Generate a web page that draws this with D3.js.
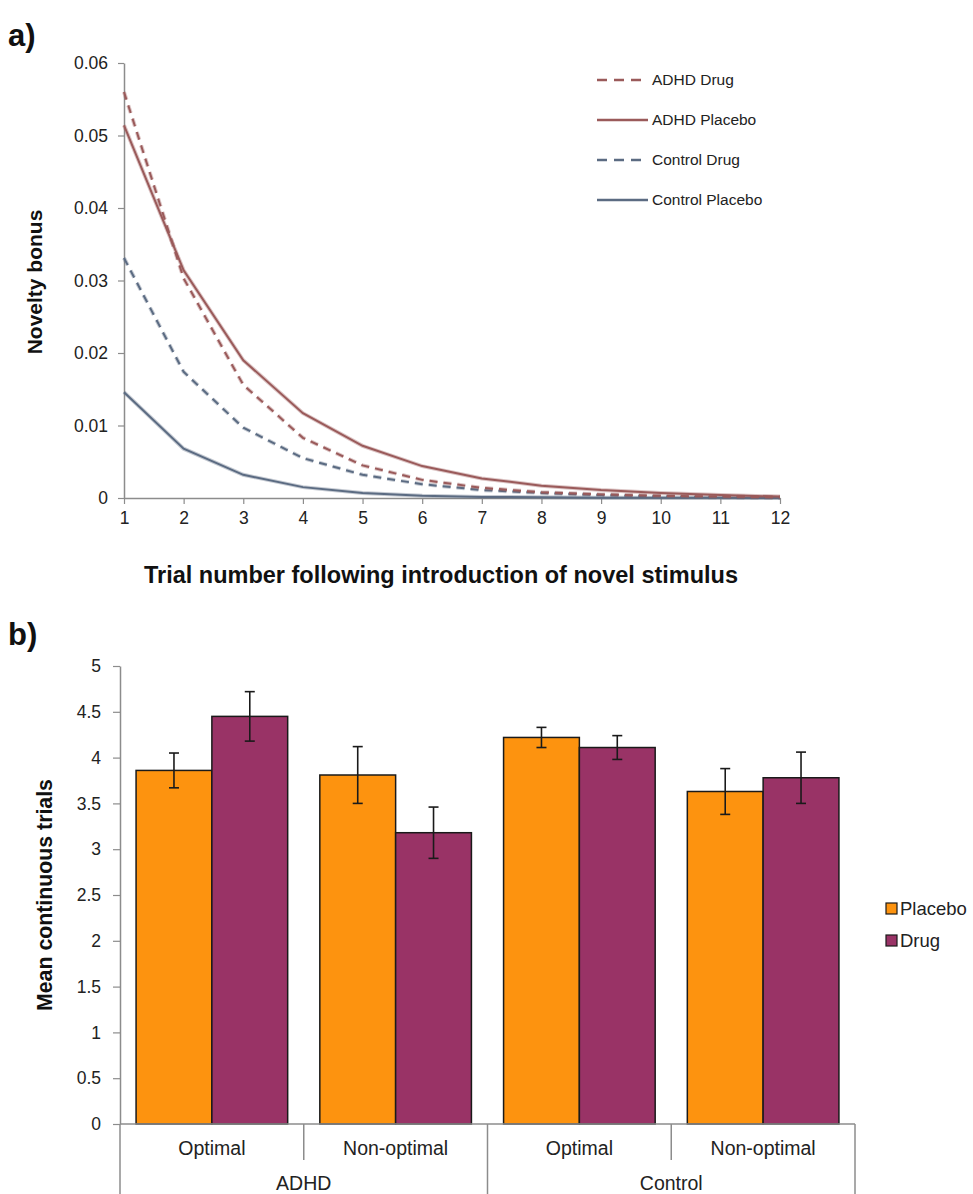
<!DOCTYPE html>
<html>
<head>
<meta charset="utf-8">
<script src="https://cdn.jsdelivr.net/npm/d3@7"></script>
<style>
  body { margin: 0; background: #fff; }
  svg { font-family: "Liberation Sans", Arial, sans-serif; }
</style>
</head>
<body>
<svg id="chart" width="973" height="1194"></svg>
<script>
// ---- panel a data ----
var trials = [1, 2, 3, 4, 5, 6, 7, 8, 9, 10, 11, 12];
var adhdDrug = [0.056, 0.0303, 0.0156, 0.0083, 0.0045, 0.0025, 0.0014, 0.0008, 0.0005, 0.0003, 0.0002, 0.0001];
var adhdPlacebo = [0.0514, 0.0314, 0.019, 0.0117, 0.0072, 0.0044, 0.0027, 0.0017, 0.0011, 0.0007, 0.0004, 0.0002];
var controlDrug = [0.0331, 0.0174, 0.0097, 0.0055, 0.0032, 0.0019, 0.0011, 0.0007, 0.0004, 0.0002, 0.0001, 0.00005];
var controlPlacebo = [0.0146, 0.0068, 0.0032, 0.0015, 0.0007, 0.0003, 0.00015, 0.0001, 0.00005, 0.00003, 0.00002, 0.00001];
var yTicksA = [0, 0.01, 0.02, 0.03, 0.04, 0.05, 0.06];

// ---- panel b data ----
var groups = ["ADHD", "Control"];
var conditions = ["Optimal", "Non-optimal"];
var seriesNames = ["Placebo", "Drug"];
var placeboMeans = [3.86, 3.81, 4.22, 3.63];
var placeboErr = [0.19, 0.31, 0.11, 0.25];
var drugMeans = [4.45, 3.18, 4.11, 3.78];
var drugErr = [0.27, 0.28, 0.13, 0.28];
var yTicksB = [0, 0.5, 1, 1.5, 2, 2.5, 3, 3.5, 4, 4.5, 5];

var svg = d3.select("#chart");
var axisGray = "#8c8c8c";
var textCol = "#222";

// ================= panel a =================
var xA = d3.scaleLinear().domain([1, 12]).range([124, 780]);
var yA = d3.scaleLinear().domain([0, 0.06]).range([498, 63]);

svg.append("text").attr("x", 8).attr("y", 46)
    .attr("font-size", 31).attr("font-weight", "bold").attr("fill", "#111")
    .text("a)");

var gyA = svg.append("g").attr("transform", "translate(124,0)")
    .call(d3.axisLeft(yA).tickValues(yTicksA).tickSize(6).tickSizeOuter(0)
        .tickFormat(d => d === 0 ? "0" : d3.format(".2f")(d)));
gyA.select(".domain").attr("stroke", axisGray).attr("stroke-width", 1.5);
gyA.selectAll(".tick line").attr("stroke", axisGray).attr("stroke-width", 1.2);
gyA.selectAll(".tick text").attr("font-size", 17.5).attr("fill", textCol).attr("x", -16);

var gxA = svg.append("g").attr("transform", "translate(0,498)")
    .call(d3.axisBottom(xA).tickValues(trials).tickSize(6).tickSizeOuter(0));
gxA.select(".domain").attr("stroke", axisGray).attr("stroke-width", 1.5);
gxA.selectAll(".tick line").attr("stroke", axisGray).attr("stroke-width", 1.2);
gxA.selectAll(".tick text").attr("font-size", 17.5).attr("fill", textCol).attr("y", 14);

svg.append("text").attr("x", 441).attr("y", 583).attr("text-anchor", "middle")
    .attr("font-size", 23.5).attr("font-weight", "bold").attr("fill", "#111")
    .text("Trial number following introduction of novel stimulus");
svg.append("text").attr("transform", "translate(42,282) rotate(-90)")
    .attr("text-anchor", "middle").attr("font-size", 21).attr("font-weight", "bold").attr("fill", "#111")
    .text("Novelty bonus");

var redCol = "#9a5a5a";
var blueCol = "#5b6b82";
var lineSeries = [
    { name: "ADHD Drug", values: adhdDrug, color: redCol, dash: "8,6" },
    { name: "ADHD Placebo", values: adhdPlacebo, color: redCol, dash: null },
    { name: "Control Drug", values: controlDrug, color: blueCol, dash: "8,6" },
    { name: "Control Placebo", values: controlPlacebo, color: blueCol, dash: null }
];

var line = d3.line().x((d, i) => xA(trials[i])).y(d => yA(d));

// draw in reverse order so ADHD lines sit on top
lineSeries.slice().reverse().forEach(function (s) {
    svg.append("path").attr("d", line(s.values))
        .attr("fill", "none").attr("stroke", s.color).attr("stroke-opacity", 0.35)
        .attr("stroke-width", 4).attr("stroke-dasharray", s.dash);
    svg.append("path").attr("d", line(s.values))
        .attr("fill", "none").attr("stroke", s.color)
        .attr("stroke-width", 2).attr("stroke-dasharray", s.dash);
});

var legA = svg.append("g");
lineSeries.forEach(function (s, i) {
    var y = 80 + i * 40;
    legA.append("line").attr("x1", 597).attr("x2", 648).attr("y1", y).attr("y2", y)
        .attr("stroke", s.color).attr("stroke-width", 2.5).attr("stroke-dasharray", s.dash ? "10,7" : null);
    legA.append("text").attr("x", 652).attr("y", y + 5)
        .attr("font-size", 15.5).attr("fill", textCol).text(s.name);
});

// ================= panel b =================
var left = 120, right = 855, base = 1124;
var combos = [];
groups.forEach(g => conditions.forEach(c => combos.push(g + "|" + c)));

var xB = d3.scaleBand().domain(combos).range([left, right]).paddingInner(0).paddingOuter(0);
var xSub = d3.scaleBand().domain(seriesNames).range([0, xB.bandwidth()]).paddingOuter(0.212).paddingInner(0);
var yB = d3.scaleLinear().domain([0, 5]).range([base, 666]);

svg.append("text").attr("x", 8).attr("y", 645)
    .attr("font-size", 31).attr("font-weight", "bold").attr("fill", "#111")
    .text("b)");

var gyB = svg.append("g").attr("transform", "translate(" + left + ",0)")
    .call(d3.axisLeft(yB).tickValues(yTicksB).tickSize(7).tickSizeOuter(0)
        .tickFormat(d3.format("~g")));
gyB.select(".domain").attr("stroke", axisGray).attr("stroke-width", 1.5);
gyB.selectAll(".tick line").attr("stroke", axisGray).attr("stroke-width", 1.2);
gyB.selectAll(".tick text").attr("font-size", 17.5).attr("fill", textCol).attr("x", -19);

svg.append("text").attr("transform", "translate(52,895) rotate(-90)")
    .attr("text-anchor", "middle").attr("font-size", 21.3).attr("font-weight", "bold").attr("fill", "#111")
    .text("Mean continuous trials");

var barData = [];
combos.forEach(function (c, i) {
    barData.push({ key: c, s: "Placebo", v: placeboMeans[i], e: placeboErr[i] });
    barData.push({ key: c, s: "Drug", v: drugMeans[i], e: drugErr[i] });
});
var fill = d3.scaleOrdinal().domain(seriesNames).range(["#fd930f", "#993366"]);

svg.append("g").selectAll("rect").data(barData).enter().append("rect")
    .attr("x", d => xB(d.key) + xSub(d.s))
    .attr("y", d => yB(d.v))
    .attr("width", xSub.bandwidth())
    .attr("height", d => base - yB(d.v))
    .attr("fill", d => fill(d.s))
    .attr("stroke", "#1a1a1a").attr("stroke-width", 1.5);

var errG = svg.append("g").attr("stroke", "#1a1a1a").attr("stroke-width", 1.6);
barData.forEach(function (d) {
    var cx = xB(d.key) + xSub(d.s) + xSub.bandwidth() / 2;
    errG.append("line").attr("x1", cx).attr("x2", cx).attr("y1", yB(d.v + d.e)).attr("y2", yB(d.v - d.e));
    errG.append("line").attr("x1", cx - 5).attr("x2", cx + 5).attr("y1", yB(d.v + d.e)).attr("y2", yB(d.v + d.e));
    errG.append("line").attr("x1", cx - 5).attr("x2", cx + 5).attr("y1", yB(d.v - d.e)).attr("y2", yB(d.v - d.e));
});

// category axis
var catG = svg.append("g");
catG.append("line").attr("x1", left).attr("x2", right).attr("y1", base).attr("y2", base)
    .attr("stroke", axisGray).attr("stroke-width", 1.5);
combos.forEach(function (c, i) {
    var x0 = xB(c);
    var isGroupEdge = i % conditions.length === 0;
    catG.append("line").attr("x1", x0).attr("x2", x0).attr("y1", base)
        .attr("y2", isGroupEdge ? 1194 : 1160)
        .attr("stroke", axisGray).attr("stroke-width", 1.5);
    catG.append("text").attr("x", x0 + xB.bandwidth() / 2).attr("y", 1155)
        .attr("text-anchor", "middle").attr("font-size", 19.5).attr("fill", textCol)
        .text(c.split("|")[1]);
});
catG.append("line").attr("x1", right).attr("x2", right).attr("y1", base).attr("y2", 1194)
    .attr("stroke", axisGray).attr("stroke-width", 1.5);
groups.forEach(function (g) {
    var first = xB(g + "|" + conditions[0]);
    var w = xB.bandwidth() * conditions.length;
    catG.append("text").attr("x", first + w / 2).attr("y", 1190)
        .attr("text-anchor", "middle").attr("font-size", 19.5).attr("fill", textCol)
        .text(g);
});

// legend b
var legB = svg.append("g");
seriesNames.forEach(function (s, i) {
    var y = 909 + i * 32;
    legB.append("rect").attr("x", 886).attr("y", y - 6).attr("width", 11).attr("height", 11)
        .attr("fill", fill(s)).attr("stroke", "#1a1a1a").attr("stroke-width", 1.2);
    legB.append("text").attr("x", 900).attr("y", y + 6)
        .attr("font-size", 18.5).attr("fill", textCol).text(s);
});
</script>
</body>
</html>
